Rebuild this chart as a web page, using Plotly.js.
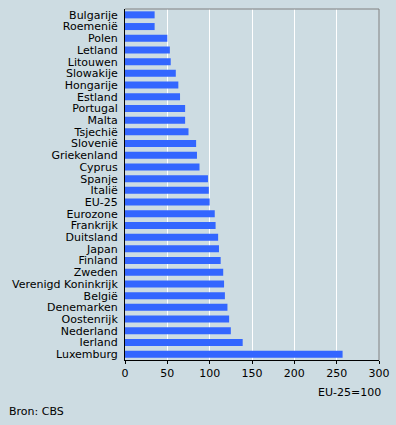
<!DOCTYPE html>
<html>
<head>
<meta charset="utf-8">
<script src="https://cdn.plot.ly/plotly-3.0.1.min.js"></script>
<style>html,body{margin:0;padding:0;background:#cddce2;}#chart{width:396px;height:425px;}</style>
</head>
<body>
<div id="chart"></div>
<script>
const countries = ["Bulgarije","Roemenië","Polen","Letland","Litouwen","Slowakije","Hongarije","Estland","Portugal","Malta","Tsjechië","Slovenië","Griekenland","Cyprus","Spanje","Italië","EU-25","Eurozone","Frankrijk","Duitsland","Japan","Finland","Zweden","Verenigd Koninkrijk","België","Denemarken","Oostenrijk","Nederland","Ierland","Luxemburg"];
const values = [35,35,50,53,54,60,63,65,71,71,75,84,85,88,98,99,100,106,107,110,111,113,116,117,118,121,123,125,139,257];
const xTicks = [0,50,100,150,200,250,300];
const unitNote = "EU-25=100";
const source = "Bron: CBS";

const bg = '#cddce2';
const data = [{
  type: 'bar', orientation: 'h',
  y: countries, x: values,
  marker: {color: '#3366ff'},
  hoverinfo: 'x+y'
}];
const layout = {
  width: 396, height: 425,
  margin: {l: 125, r: 17, t: 9, b: 65},
  paper_bgcolor: bg, plot_bgcolor: bg,
  font: {family: 'DejaVu Sans, Verdana, sans-serif', size: 11, color: '#000'},
  bargap: 0.4,
  showlegend: false,
  xaxis: {
    range: [0, 300], tickmode: 'array', tickvals: xTicks, ticktext: xTicks.map(String),
    showgrid: true, gridcolor: '#ffffff', gridwidth: 1,
    zeroline: false, showline: true, linecolor: '#000', linewidth: 1,
    ticks: 'outside', ticklen: 3, tickcolor: '#000', tickwidth: 1,
    fixedrange: true
  },
  yaxis: {
    type: 'category', categoryorder: 'array', categoryarray: countries,
    tickmode: 'array', tickvals: countries, ticktext: countries,
    autorange: 'reversed',
    showgrid: false, zeroline: false, showline: true, linecolor: '#000', linewidth: 1,
    ticks: '', ticklabelstandoff: 4, fixedrange: true
  },
  shapes: [
    {type: 'line', xref: 'paper', yref: 'paper', x0: 0, x1: 1, y0: 1, y1: 1, line: {color: '#808080', width: 1}},
    {type: 'line', xref: 'paper', yref: 'paper', x0: 1, x1: 1, y0: 0, y1: 1, line: {color: '#808080', width: 1}}
  ],
  annotations: [
    {text: unitNote, xref: 'paper', yref: 'paper', x: 1.016, y: -0.094, xanchor: 'right', yanchor: 'middle', showarrow: false},
    {text: source, xref: 'paper', yref: 'paper', x: -0.4646, y: -0.148, xanchor: 'left', yanchor: 'middle', showarrow: false}
  ]
};
Plotly.newPlot('chart', data, layout, {displayModeBar: false, staticPlot: true});
</script>
</body>
</html>
